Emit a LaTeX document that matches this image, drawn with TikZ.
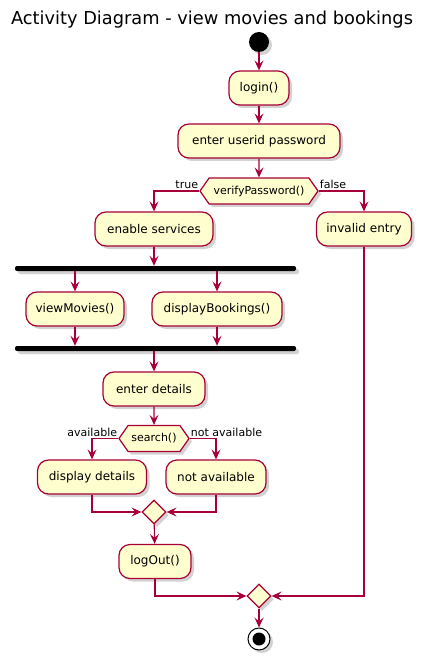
\documentclass[tikz,border=0pt]{standalone}
\usepackage{fontspec}
\setmainfont{DejaVu Sans}
\usetikzlibrary{shapes.geometric,shapes.symbols,arrows.meta,shadows}
\definecolor{umlfill}{HTML}{FEFECE}
\definecolor{umlline}{HTML}{A80036}
\tikzset{
  shd/.style={drop shadow={shadow xshift=3pt,shadow yshift=-3pt,fill=black!35,opacity=0.5}},
  act/.style={draw=umlline,fill=umlfill,line width=1.2pt,rounded corners=11pt,minimum height=34pt,inner xsep=0pt,shd,font=\fontsize{12}{14}\selectfont},
  hexa/.style={signal,signal to=west and east,signal pointer angle=110,draw=umlline,fill=umlfill,line width=1.2pt,minimum height=26pt,inner xsep=0pt,inner ysep=0pt,shd,font=\fontsize{11}{13}\selectfont},
  merge/.style={diamond,draw=umlline,fill=umlfill,line width=1.2pt,minimum width=24pt,minimum height=24pt,inner sep=0pt,shd},
  bar/.style={rectangle,fill=black,rounded corners=2pt,minimum width=281pt,minimum height=5pt,inner sep=0pt,shd},
  arr/.style={draw=umlline,line width=1.2pt,-{Stealth[length=10pt,width=9pt,inset=4pt]}},
  lbl/.style={font=\fontsize{11}{13}\selectfont,inner xsep=1pt,inner ysep=2pt},
}
\begin{document}
\begin{tikzpicture}[x=1pt,y=-1pt]
\useasboundingbox (0,0) rectangle (424,660);
\node[font=\fontsize{17.8}{21}\selectfont] (title) at (212,20) {Activity Diagram - view movies and bookings};
\node[circle,fill=black,minimum size=20pt,inner sep=0pt,shd] (start) at (259,42) {};
\node[act,minimum width=60pt] (login) at (259,88) {login()};
\node[act,minimum width=162pt] (eup) at (259,141) {enter userid password};
\node[hexa,minimum width=118pt] (vp) at (259,191) {verifyPassword()};
\node[act,minimum width=118pt] (es) at (154,229) {enable services};
\node[act,minimum width=95pt] (ie) at (364,229) {invalid entry};
\node[bar] (fork) at (155.5,268.5) {};
\node[act,minimum width=98pt] (vm) at (75,309) {viewMovies()};
\node[act,minimum width=130pt] (db) at (217,309) {displayBookings()};
\node[bar] (join) at (155.5,348.5) {};
\node[act,minimum width=102pt] (ed) at (154,389) {enter details};
\node[hexa,minimum width=70pt] (search) at (154,438.5) {search()};
\node[act,minimum width=109pt] (dd) at (92,477) {display details};
\node[act,minimum width=100pt] (na) at (216,477) {not available};
\node[merge] (m1) at (154,512) {};
\node[act,minimum width=72pt] (lo) at (155,561.5) {logOut()};
\node[merge] (m2) at (259,596) {};
\node[circle,draw=black,line width=1pt,fill=white,minimum size=22pt,inner sep=0pt,shd] (end) at (259,639) {};
\fill (end.center) circle (6.5pt);

\node[lbl,anchor=south east] (tlbl) at (vp.west) {true};
\node[lbl,anchor=south west] (flbl) at (vp.east) {false};
\node[lbl,anchor=south east] (albl) at (search.west) {available};
\node[lbl,anchor=south west] (nlbl) at (search.east) {not available};

\draw[arr] (start) -- (login);
\draw[arr] (login) -- (eup);
\draw[arr] (eup) -- (vp);
\draw[arr] (vp.west) -| (es.north);
\draw[arr] (vp.east) -| (ie.north);
\draw[arr] (es) -- (es |- fork.north);
\draw[arr] (vm |- fork.south) -- (vm);
\draw[arr] (db |- fork.south) -- (db);
\draw[arr] (vm) -- (vm |- join.north);
\draw[arr] (db) -- (db |- join.north);
\draw[arr] (ed |- join.south) -- (ed);
\draw[arr] (ed) -- (search);
\draw[arr] (search.west) -| (dd.north);
\draw[arr] (search.east) -| (na.north);
\draw[arr] (dd.south) |- (m1.west);
\draw[arr] (na.south) |- (m1.east);
\draw[arr] (m1) -- (lo);
\draw[arr] (lo.south) |- (m2.west);
\draw[arr] (ie.south) |- (m2.east);
\draw[arr] (m2) -- (end);
\end{tikzpicture}
\end{document}
